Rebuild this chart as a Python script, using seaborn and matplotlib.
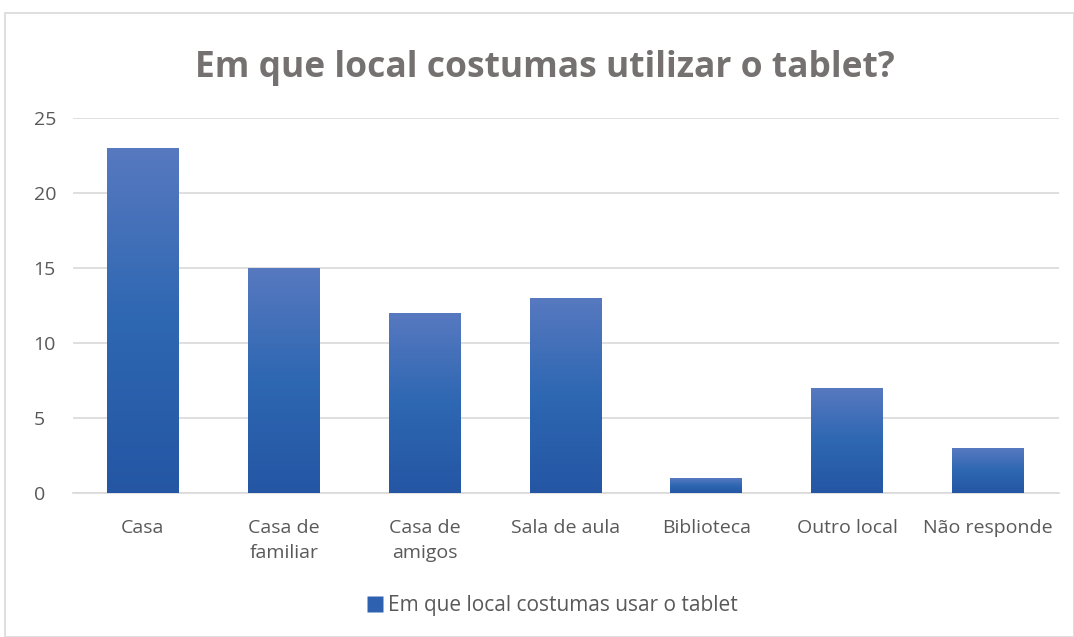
import numpy as np
import pandas as pd
import matplotlib
matplotlib.use("Agg")
import matplotlib.pyplot as plt
import seaborn as sns
from matplotlib.colors import LinearSegmentedColormap
from matplotlib.patches import Rectangle
from matplotlib.lines import Line2D

categories = ["Casa", "Casa de\nfamiliar", "Casa de\namigos", "Sala de aula",
              "Biblioteca", "Outro local", "Não responde"]
values = [23, 15, 12, 13, 1, 7, 3]
series_name = "Em que local costumas usar o tablet"
title = "Em que local costumas utilizar o tablet?"
yticks = [0, 5, 10, 15, 20, 25]

sns.set_theme(style="white")
plt.rcParams['font.family'] = ['Open Sans', 'DejaVu Sans']

fig = plt.figure(figsize=(10.74, 6.37), dpi=100)
ax = fig.add_axes([72.5/1074, 1 - 493/637, (1058.5-72.5)/1074, (493-118)/637])

df = pd.DataFrame({"local": categories, "n": values})
sns.barplot(data=df, x="local", y="n", ax=ax, color="#2e67b2", width=0.51,
            saturation=1, zorder=3)

cmap = LinearSegmentedColormap.from_list("g", ["#2456a4", "#2e67b2", "#5779c0"])
grad = np.linspace(0, 1, 256).reshape(-1, 1)
for p in list(ax.patches):
    x0, w, h = p.get_x(), p.get_width(), p.get_height()
    im = ax.imshow(grad, cmap=cmap, origin="lower", aspect="auto",
                   extent=[x0, x0 + w, 0, h], zorder=4)
    im.set_clip_path(p)
    p.set_edgecolor("none")

ax.set_xlim(-0.5, len(categories) - 0.5)
ax.set_ylim(0, 25)
ax.set_yticks(yticks)
ax.yaxis.grid(True, color="#d9d9d9", linewidth=1.2, zorder=0)
ax.xaxis.grid(False)
for s in ["top", "right", "left"]:
    ax.spines[s].set_visible(False)
ax.spines["bottom"].set_color("#d9d9d9")
ax.spines["bottom"].set_linewidth(1.2)
ax.tick_params(axis="both", length=0, colors="#595959")
ax.tick_params(axis="x", labelsize=14, pad=19)
ax.tick_params(axis="y", labelsize=14, pad=28)
for lbl in ax.get_yticklabels():
    lbl.set_horizontalalignment("left")
for lbl in ax.get_xticklabels():
    lbl.set_linespacing(1.45)
ax.set_xlabel("")
ax.set_ylabel("")

fig.text(0.5 + 8/1074, 1 - 68/637, title, ha="center", va="center", fontsize=25.5,
         fontweight="bold", color="#767171")

handle = Line2D([], [], marker="s", linestyle="none", markersize=11,
                markerfacecolor="#2e62b0", markeredgecolor="none")
fig.legend([handle], [series_name], loc="center",
           bbox_to_anchor=(0.5 + 15/1074, 1 - 606/637),
           frameon=False, fontsize=15, labelcolor="#595959", handletextpad=0.2,
           handlelength=0.8)

fig.patches.append(Rectangle((5/1074, 0), 1 - 5/1074, 1 - 13/637, transform=fig.transFigure,
                             fill=False, edgecolor="#d9d9d9", linewidth=1.2))

fig.savefig("out.png", dpi=100, facecolor="white")
